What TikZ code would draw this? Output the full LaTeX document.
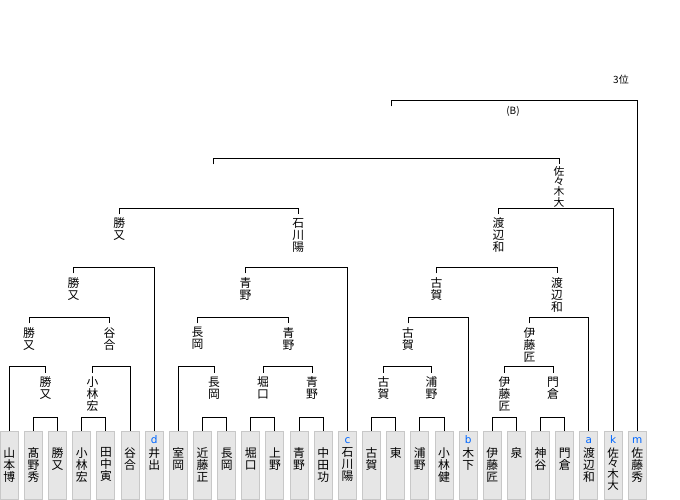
\documentclass[tikz,border=0pt]{standalone}
\usepackage{fontspec}
\newfontfamily\jp{Noto Sans CJK JP}
\newfontfamily\lat{DejaVu Sans}
\definecolor{boxfill}{RGB}{230,230,230}
\definecolor{boxline}{RGB}{200,200,200}
\definecolor{letterblue}{RGB}{0,102,255}
\begin{document}
\begin{tikzpicture}[x=1pt,y=-1pt,
  leafbox/.style={draw=boxline,fill=boxfill,line width=1pt,minimum width=18pt,minimum height=68pt,inner sep=0pt,anchor=north},
  vname/.style={font=\jp\fontsize{11.8}{12}\selectfont,align=center,inner sep=0pt,anchor=north},
  vfour/.style={vname,font=\jp\fontsize{11.5}{10.6}\selectfont},
  tag/.style={font=\lat\fontsize{10.5}{10.5}\selectfont,text=letterblue,inner sep=0pt,anchor=base},
  small/.style={font=\jp\fontsize{10}{10}\selectfont,inner sep=0pt},
  wire/.style={draw=black,line width=1pt}]
\useasboundingbox (0,0) rectangle (680,500);

% ---- leaf boxes ----
\node[leafbox] (l0) at (9.3,430.5) {};
\node[leafbox] (l1) at (33.45,430.5) {};
\node[leafbox] (l2) at (57.6,430.5) {};
\node[leafbox] (l3) at (81.75,430.5) {};
\node[leafbox] (l4) at (105.9,430.5) {};
\node[leafbox] (l5) at (130.05,430.5) {};
\node[leafbox] (l6) at (154.2,430.5) {};
\node[leafbox] (l7) at (178.35,430.5) {};
\node[leafbox] (l8) at (202.5,430.5) {};
\node[leafbox] (l9) at (226.65,430.5) {};
\node[leafbox] (l10) at (250.8,430.5) {};
\node[leafbox] (l11) at (274.95,430.5) {};
\node[leafbox] (l12) at (299.1,430.5) {};
\node[leafbox] (l13) at (323.25,430.5) {};
\node[leafbox] (l14) at (347.4,430.5) {};
\node[leafbox] (l15) at (371.55,430.5) {};
\node[leafbox] (l16) at (395.7,430.5) {};
\node[leafbox] (l17) at (419.85,430.5) {};
\node[leafbox] (l18) at (444.0,430.5) {};
\node[leafbox] (l19) at (468.15,430.5) {};
\node[leafbox] (l20) at (492.3,430.5) {};
\node[leafbox] (l21) at (516.45,430.5) {};
\node[leafbox] (l22) at (540.6,430.5) {};
\node[leafbox] (l23) at (564.75,430.5) {};
\node[leafbox] (l24) at (588.9,430.5) {};
\node[leafbox] (l25) at (613.05,430.5) {};
\node[leafbox] (l26) at (637.2,430.5) {};

% ---- names in boxes ----
\node[vname] (t0) at (9.3,447.5) {山\\本\\博};
\node[vname] (t1) at (33.45,447.5) {髙\\野\\秀};
\node[vname] (t2) at (57.6,447.5) {勝\\又};
\node[vname] (t3) at (81.75,447.5) {小\\林\\宏};
\node[vname] (t4) at (105.9,447.5) {田\\中\\寅};
\node[vname] (t5) at (130.05,447.5) {谷\\合};
\node[vname] (t6) at (154.2,447.5) {井\\出};
\node[vname] (t7) at (178.35,447.5) {室\\岡};
\node[vname] (t8) at (202.5,447.5) {近\\藤\\正};
\node[vname] (t9) at (226.65,447.5) {長\\岡};
\node[vname] (t10) at (250.8,447.5) {堀\\口};
\node[vname] (t11) at (274.95,447.5) {上\\野};
\node[vname] (t12) at (299.1,447.5) {青\\野};
\node[vname] (t13) at (323.25,447.5) {中\\田\\功};
\node[vname] (t14) at (347.4,447.5) {石\\川\\陽};
\node[vname] (t15) at (371.55,447.5) {古\\賀};
\node[vname] (t16) at (395.7,447.5) {東};
\node[vname] (t17) at (419.85,447.5) {浦\\野};
\node[vname] (t18) at (444.0,447.5) {小\\林\\健};
\node[vname] (t19) at (468.15,447.5) {木\\下};
\node[vname] (t20) at (492.3,447.5) {伊\\藤\\匠};
\node[vname] (t21) at (516.45,447.5) {泉};
\node[vname] (t22) at (540.6,447.5) {神\\谷};
\node[vname] (t23) at (564.75,447.5) {門\\倉};
\node[vname] (t24) at (588.9,447.5) {渡\\辺\\和};
\node[vfour] (t25) at (613.05,447.5) {佐\\々\\木\\大};
\node[vname] (t26) at (637.2,447.5) {佐\\藤\\秀};

% ---- blue letters ----
\node[tag] (g6) at (154.2,443) {d};
\node[tag] (g14) at (347.4,443) {c};
\node[tag] (g19) at (468.15,443) {b};
\node[tag] (g24) at (588.9,443) {a};
\node[tag] (g25) at (613.05,443) {k};
\node[tag] (g26) at (637.2,443) {m};

% ---- bracket tops (level points) ----
\coordinate (h1) at (45.5,417.3);
\coordinate (h2) at (92.5,417.3);
\coordinate (h7) at (214,417.3);
\coordinate (h8) at (263,417.3);
\coordinate (h9) at (312,417.3);
\coordinate (h15) at (383.5,417.3);
\coordinate (h16) at (431.5,417.3);
\coordinate (h17) at (504.5,417.3);
\coordinate (h18) at (553,417.3);
\coordinate (h3) at (29,366.7);
\coordinate (h4) at (109.5,366.7);
\coordinate (h10) at (197.5,366.7);
\coordinate (h11) at (288.5,366.7);
\coordinate (h19) at (408,366.7);
\coordinate (h20) at (529.5,366.7);
\coordinate (h5) at (73.5,317.3);
\coordinate (h12) at (245.5,317.3);
\coordinate (h21) at (436.5,317.3);
\coordinate (h22) at (557,317.3);
\coordinate (h6) at (119.3,267.3);
\coordinate (h13) at (298.3,267.3);
\coordinate (h23) at (498.5,267.3);
\coordinate (h14) at (213,208.3);
\coordinate (h24) at (559,208.3);
\coordinate (h25) at (391.7,158.3);
\coordinate (h26) at (513,100.3);

% ---- winner stubs ----
\coordinate (w1) at (45.5,372.7);
\coordinate (w2) at (92.5,372.7);
\coordinate (w7) at (214,372.7);
\coordinate (w8) at (263,372.7);
\coordinate (w9) at (312,372.7);
\coordinate (w15) at (383.5,372.7);
\coordinate (w16) at (431.5,372.7);
\coordinate (w17) at (504.5,372.7);
\coordinate (w18) at (553,372.7);
\coordinate (w3) at (29,323.3);
\coordinate (w4) at (109.5,323.3);
\coordinate (w10) at (197.5,323.3);
\coordinate (w11) at (288.5,323.3);
\coordinate (w19) at (408,323.3);
\coordinate (w20) at (529.5,323.3);
\coordinate (w5) at (73.5,273.3);
\coordinate (w12) at (245.5,273.3);
\coordinate (w21) at (436.5,273.3);
\coordinate (w22) at (557,273.3);
\coordinate (w6) at (119.3,214.3);
\coordinate (w13) at (298.3,214.3);
\coordinate (w23) at (498.5,214.3);
\coordinate (w14) at (213,164.3);
\coordinate (w24) at (559,164.3);
\coordinate (w25) at (391.7,106.3);

% ---- winner labels ----
\node[vname] (n1) at (45.5,376.7) {勝\\又};
\node[vname] (n2) at (92.5,376.7) {小\\林\\宏};
\node[vname] (n7) at (214,376.7) {長\\岡};
\node[vname] (n8) at (263,376.7) {堀\\口};
\node[vname] (n9) at (312,376.7) {青\\野};
\node[vname] (n15) at (383.5,376.7) {古\\賀};
\node[vname] (n16) at (431.5,376.7) {浦\\野};
\node[vname] (n17) at (504.5,376.7) {伊\\藤\\匠};
\node[vname] (n18) at (553,376.7) {門\\倉};
\node[vname] (n3) at (29,327.3) {勝\\又};
\node[vname] (n4) at (109.5,327.3) {谷\\合};
\node[vname] (n10) at (197.5,327.3) {長\\岡};
\node[vname] (n11) at (288.5,327.3) {青\\野};
\node[vname] (n19) at (408,327.3) {古\\賀};
\node[vname] (n20) at (529.5,327.3) {伊\\藤\\匠};
\node[vname] (n5) at (73.5,277.3) {勝\\又};
\node[vname] (n12) at (245.5,277.3) {青\\野};
\node[vname] (n21) at (436.5,277.3) {古\\賀};
\node[vname] (n22) at (557,277.3) {渡\\辺\\和};
\node[vname] (n6) at (119.3,217.8) {勝\\又};
\node[vname] (n13) at (298.3,217.8) {石\\川\\陽};
\node[vname] (n23) at (498.5,217.8) {渡\\辺\\和};
\node[vfour,font=\jp\fontsize{10.8}{10.2}\selectfont] (n24) at (559,166.3) {佐\\々\\木\\大};
\node[small,anchor=center] (nB) at (513,111) {(B)};
\node[small,anchor=center] (n3rd) at (621,80) {3位};

% ---- brackets ----
\draw[wire] (l1.north) |- (h1) -| (l2.north);
\draw[wire] (l3.north) |- (h2) -| (l4.north);
\draw[wire] (l8.north) |- (h7) -| (l9.north);
\draw[wire] (l10.north) |- (h8) -| (l11.north);
\draw[wire] (l12.north) |- (h9) -| (l13.north);
\draw[wire] (l15.north) |- (h15) -| (l16.north);
\draw[wire] (l17.north) |- (h16) -| (l18.north);
\draw[wire] (l20.north) |- (h17) -| (l21.north);
\draw[wire] (l22.north) |- (h18) -| (l23.north);
\draw[wire] (l0.north) |- (h3) -| (w1);
\draw[wire] (w2) |- (h4) -| (l5.north);
\draw[wire] (l7.north) |- (h10) -| (w7);
\draw[wire] (w8) |- (h11) -| (w9);
\draw[wire] (w15) |- (h19) -| (w16);
\draw[wire] (w17) |- (h20) -| (w18);
\draw[wire] (w3) |- (h5) -| (w4);
\draw[wire] (w10) |- (h12) -| (w11);
\draw[wire] (w19) |- (h21) -| (l19.north);
\draw[wire] (w20) |- (h22) -| (l24.north);
\draw[wire] (w5) |- (h6) -| (l6.north);
\draw[wire] (w12) |- (h13) -| (l14.north);
\draw[wire] (w21) |- (h23) -| (w22);
\draw[wire] (w6) |- (h14) -| (w13);
\draw[wire] (w23) |- (h24) -| (l25.north);
\draw[wire] (w14) |- (h25) -| (w24);
\draw[wire] (w25) |- (h26) -| (l26.north);
\end{tikzpicture}
\end{document}
